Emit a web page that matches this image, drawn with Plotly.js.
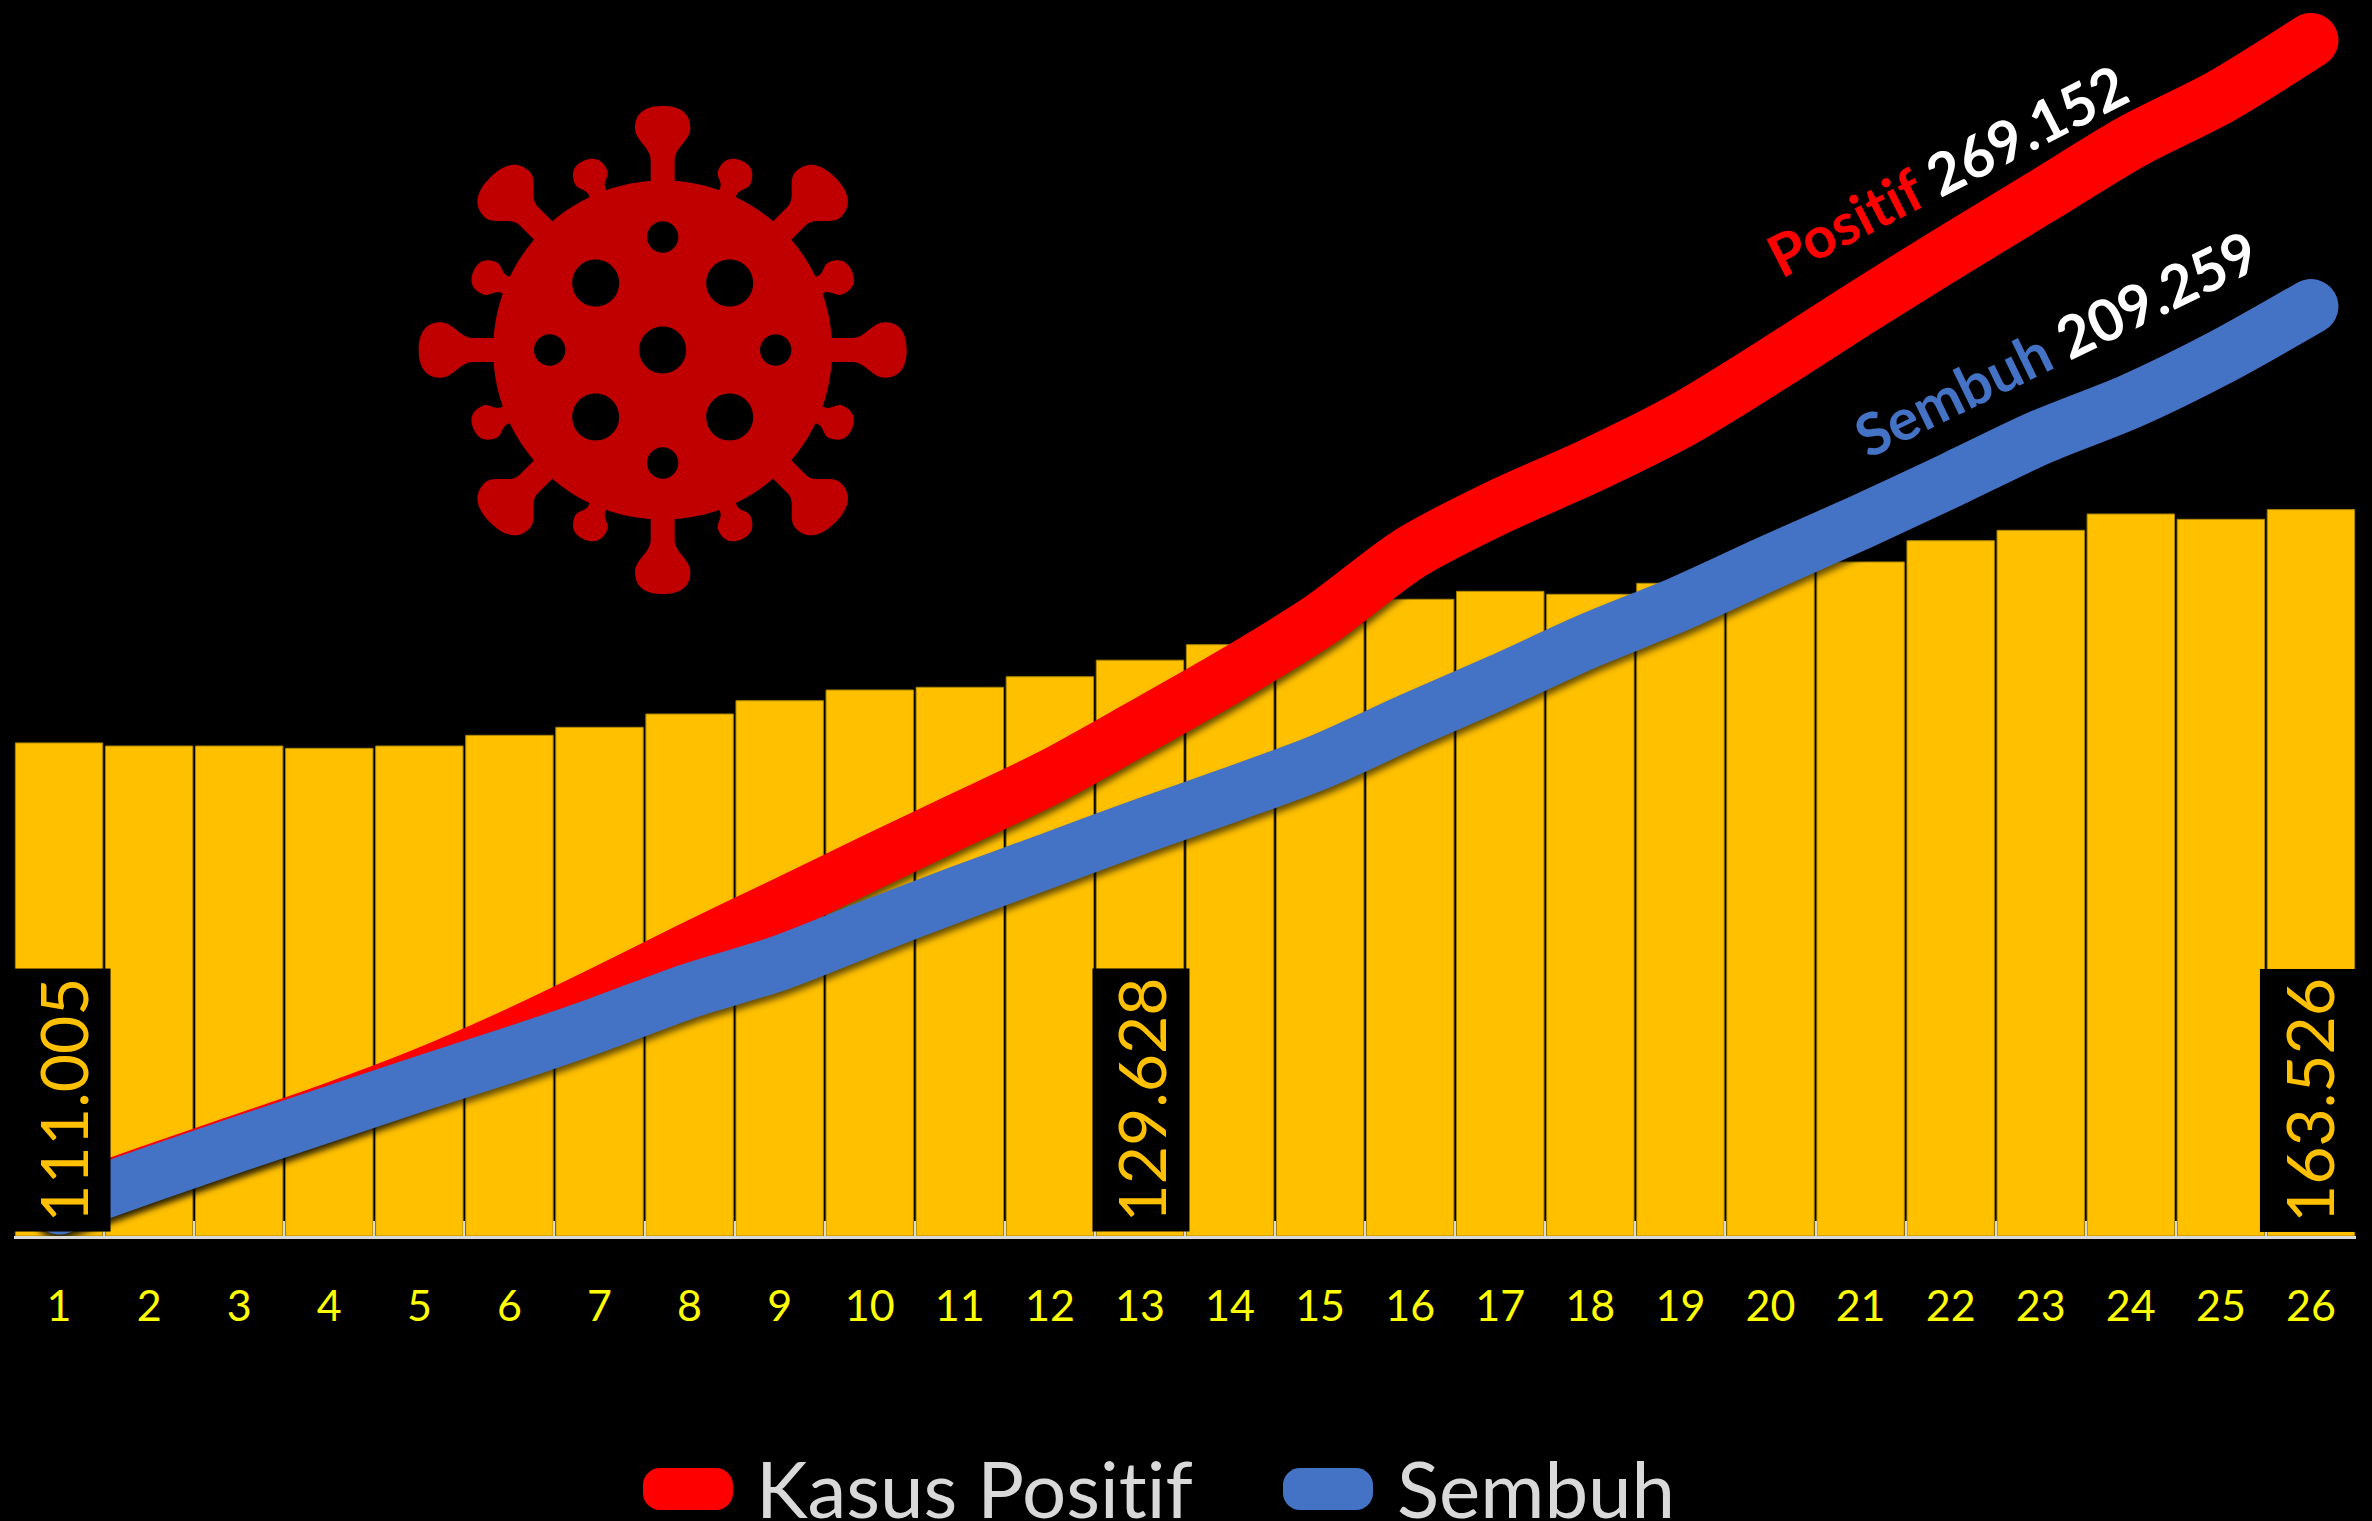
<!DOCTYPE html>
<html>
<head>
<meta charset="utf-8">
<script src="https://cdn.plot.ly/plotly-3.0.1.min.js"></script>
<style>
html,body{margin:0;padding:0;background:#000;}
#chart{width:2372px;height:1521px;}
svg text{font-variant-ligatures:none;font-feature-settings:"liga" 0;}
.scatterlayer .js-line{stroke-linecap:round !important;filter:drop-shadow(1px 5px 3px rgba(0,0,0,.6));}
</style>
</head>
<body>
<div id="chart"></div>
<script>
const days = ['1','2','3','4','5','6','7','8','9','10','11','12','13','14','15','16','17','18','19','20','21','22','23','24','25','26'];
const aktif = [111005,110310,110310,109790,110310,112720,114520,117515,120510,122920,123530,125910,129628,133120,138000,143340,145135,144460,146940,149415,151735,156530,158870,162540,161345,163526];
const positif = [6980,14180,21160,28140,35790,44570,54250,64380,74130,83960,93640,103320,114580,126130,138660,153750,164320,173400,183520,195910,208900,221570,233880,246260,256530,269152];
const sembuh = [6530,13730,20710,27460,34220,40750,47720,55220,61460,69450,77210,84640,92140,99270,106770,116000,124890,134160,142420,151720,160720,170180,179860,187960,197860,209259];
const boxDays = ['1','13','26'];
const boxLabels = ['111.005','129.628','163.526'];
const boxShift = [3,1,-2.5];
const legendNames = ['Kasus Positif','Sembuh'];

const W = 2372, H = 1521, L = 14, R = 16, BASE = 1236, YMAX = 278253;
const xp = v => ((v - L) / (W - L - R)).toFixed(5);
const yp = v => ((BASE - v) / BASE).toFixed(5);
const pt = (x, y) => xp(x) + ',' + yp(y);

function circle(cx, cy, r) {
  const k = 0.5523 * r;
  return 'M' + pt(cx + r, cy) +
    'C' + pt(cx + r, cy + k) + ' ' + pt(cx + k, cy + r) + ' ' + pt(cx, cy + r) +
    'C' + pt(cx - k, cy + r) + ' ' + pt(cx - r, cy + k) + ' ' + pt(cx - r, cy) +
    'C' + pt(cx - r, cy - k) + ' ' + pt(cx - k, cy - r) + ' ' + pt(cx, cy - r) +
    'C' + pt(cx + k, cy - r) + ' ' + pt(cx + r, cy - k) + ' ' + pt(cx + r, cy) + 'Z';
}
const VX = 662.7, VY = 350, VCOL = '#C00000';
function spike(deg, s, r0, r1, rm, hw, top) {
  const a = deg * Math.PI / 180;
  const P = (t, r) => pt(VX + r * Math.sin(a) + t * Math.cos(a), VY - r * Math.cos(a) + t * Math.sin(a));
  const d = rm - r1, e = top - rm;
  return 'M' + P(-s, r0) + 'L' + P(-s, r1) +
    'C' + P(-s, r1 + d * .4) + ' ' + P(-hw, rm - d * .4) + ' ' + P(-hw, rm) +
    'C' + P(-hw, rm + e * .75) + ' ' + P(-hw * .55, top) + ' ' + P(0, top) +
    'C' + P(hw * .55, top) + ' ' + P(hw, rm + e * .75) + ' ' + P(hw, rm) +
    'C' + P(hw, rm - d * .4) + ' ' + P(s, r1 + d * .4) + ' ' + P(s, r1) +
    'L' + P(s, r0) + 'Z';
}
function roundRect(x0, y0, x1, y1, r) {
  const k = r * .45;
  return 'M' + pt(x0 + r, y0) + 'L' + pt(x1 - r, y0) +
    'C' + pt(x1 - k, y0) + ' ' + pt(x1, y0 + k) + ' ' + pt(x1, y0 + r) +
    'L' + pt(x1, y1 - r) +
    'C' + pt(x1, y1 - k) + ' ' + pt(x1 - k, y1) + ' ' + pt(x1 - r, y1) +
    'L' + pt(x0 + r, y1) +
    'C' + pt(x0 + k, y1) + ' ' + pt(x0, y1 - k) + ' ' + pt(x0, y1 - r) +
    'L' + pt(x0, y0 + r) +
    'C' + pt(x0, y0 + k) + ' ' + pt(x0 + k, y0) + ' ' + pt(x0 + r, y0) + 'Z';
}
const solid = (path, color) => ({type:'path', xref:'paper', yref:'paper', path, fillcolor:color, line:{width:0}, layer:'above'});

let body = circle(VX, VY, 169.5) + circle(VX, VY, 23.5);
[[-67,-67],[67,-67],[-67,67],[67,67]].forEach(o => body += circle(VX + o[0], VY + o[1], 23.5));
[[0,-113],[0,113],[-113,0],[113,0]].forEach(o => body += circle(VX + o[0], VY + o[1], 15.7));
const shapes = [solid(body, VCOL)];
[0,90,180,270].forEach(d => shapes.push(solid(spike(d,12,160,190,222,27.7,244), VCOL)));
[45,135,225,315].forEach(d => shapes.push(solid(spike(d,13,160,190,220,32,244), VCOL)));
[22.5,67.5,112.5,157.5,202.5,247.5,292.5,337.5].forEach(d => shapes.push(solid(spike(d,9,160,172,187,17.5,205), VCOL)));
shapes.push(solid(roundRect(643, 1468, 733, 1510, 17), '#FF0000'));
shapes.push(solid(roundRect(1283, 1468, 1373, 1510, 17), '#4472C4'));

const annotations = boxDays.map((d, i) => ({
  xref:'x', yref:'paper', x:days.indexOf(d), y:Number(yp(1100)), xanchor:'center', yanchor:'middle', xshift:boxShift[i],
  text:boxLabels[i], textangle:-90, width:262, height:96, bgcolor:'#000', borderpad:0, showarrow:false,
  align:'center', valign:'middle', font:{family:'Lato', size:66, color:'#FFC000'}
}));
annotations.push(
  {xref:'paper', yref:'paper', x:Number(xp(1947)), y:Number(yp(170)), xanchor:'center', yanchor:'middle', text:'<b><span style="color:#FF0000">Positif</span> <span style="color:#FFFFFF">269.152</span></b>',
   textangle:-27, showarrow:false, font:{family:'Lato', size:58, color:'#FFF'}},
  {xref:'paper', yref:'paper', x:Number(xp(2056)), y:Number(yp(342)), xanchor:'center', yanchor:'middle', text:'<b><span style="color:#4472C4">Sembuh</span> <span style="color:#FFFFFF">209.259</span></b>',
   textangle:-26, showarrow:false, font:{family:'Lato', size:58, color:'#FFF'}},
  {xref:'paper', yref:'paper', x:Number(xp(755)), y:Number(yp(1488)), xanchor:'left', yanchor:'middle', text:legendNames[0],
   showarrow:false, borderpad:0, font:{family:'Lato', size:78, color:'#D9D9D9'}},
  {xref:'paper', yref:'paper', x:Number(xp(1396)), y:Number(yp(1488)), xanchor:'left', yanchor:'middle', text:legendNames[1],
   showarrow:false, borderpad:0, font:{family:'Lato', size:78, color:'#D9D9D9'}}
);

const traces = [
  {type:'bar', x:days, y:aktif, name:'Kasus Aktif', marker:{color:'#FFC000', line:{color:'#A98600', width:1}}, showlegend:false},
  {type:'scatter', mode:'lines', x:days, y:positif, name:legendNames[0], cliponaxis:false, line:{color:'#FF0000', width:55, shape:'spline', smoothing:0.8}, showlegend:false},
  {type:'scatter', mode:'lines', x:days, y:sembuh, name:legendNames[1], cliponaxis:false, line:{color:'#4472C4', width:55, shape:'spline', smoothing:0.8}, showlegend:false}
];
const layout = {
  width:W, height:H, paper_bgcolor:'#000', plot_bgcolor:'#000',
  margin:{l:L, r:R, t:0, b:H-BASE, pad:0}, bargap:0.03, showlegend:false,
  xaxis:{type:'category', range:[-0.5,25.5], tickson:'boundaries', ticks:'inside', ticklen:15, tickwidth:2, tickcolor:'#D9D9D9',
    showline:true, linecolor:'#D9D9D9', linewidth:3, showgrid:false, zeroline:false, ticklabelstandoff:30,
    tickfont:{family:'Lato', size:43, color:'#FFFF00'}, automargin:false},
  yaxis:{range:[0,YMAX], visible:false, showgrid:false, zeroline:false, automargin:false},
  shapes, annotations
};
Plotly.newPlot('chart', traces, layout, {displayModeBar:false, staticPlot:true});
</script>
</body>
</html>
